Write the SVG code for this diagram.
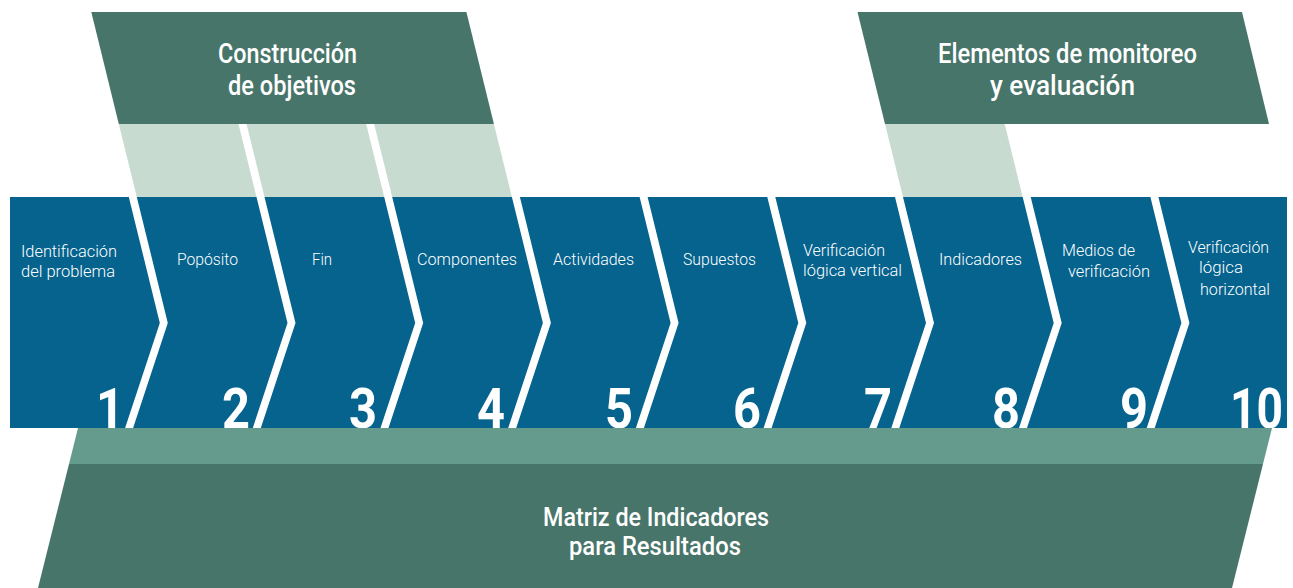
<svg xmlns="http://www.w3.org/2000/svg" width="1293" height="588" viewBox="0 0 1293 588">
  <style>
    .dark{fill:#48756A}
    .light{fill:#C8DBD1}
    .mid{fill:#659B8D}
    .blue{fill:#05638E}
    .head{font-family:Roboto,"Liberation Sans",sans-serif;font-weight:500;font-size:28px;fill:#fff}
    .foot{font-family:Roboto,"Liberation Sans",sans-serif;font-weight:500;font-size:26px;fill:#fff}
    .lbl{font-family:Roboto,"Liberation Sans",sans-serif;font-weight:300;font-size:16px;fill:#fff}
    .num{font-family:Roboto,"Liberation Sans",sans-serif;font-weight:700;font-size:56px;fill:#fff}
  </style>
  <rect width="1293" height="588" fill="#fff"/>

  <g id="header-construccion">
    <polygon class="dark" points="91.3,12 466.4,12 493.9,124 118.8,124"/>
    <polygon class="light" points="118.8,124 238.5,124 256.5,197 136.8,197"/>
    <polygon class="light" points="246.5,124 366.2,124 384.2,197 264.5,197"/>
    <polygon class="light" points="374.2,124 493.9,124 511.9,197 392.2,197"/>
    <text class="head" x="218" y="63" textLength="139" lengthAdjust="spacingAndGlyphs">Construcción</text>
    <text class="head" x="228" y="95" textLength="128" lengthAdjust="spacingAndGlyphs">de objetivos</text>
  </g>

  <g id="header-monitoreo">
    <polygon class="dark" points="857.5,12 1242,12 1269,124 885,124"/>
    <polygon class="light" points="885,124 1004.7,124 1022.7,197 903,197"/>
    <text class="head" x="938" y="63" textLength="259" lengthAdjust="spacingAndGlyphs">Elementos de monitoreo</text>
    <text class="head" x="990" y="95" textLength="145" lengthAdjust="spacingAndGlyphs">y evaluación</text>
  </g>

  <g id="step-1">
    <polygon class="blue" points="10,197 128.8,197 159.8,323 125.1,428 10,428"/>
    <text class="lbl" x="21" y="257" textLength="96" lengthAdjust="spacingAndGlyphs">Identificación</text>
    <text class="lbl" x="21" y="277" textLength="94" lengthAdjust="spacingAndGlyphs">del problema</text>
    <text class="num" x="96" y="428" textLength="28" lengthAdjust="spacingAndGlyphs">1</text>
  </g>
  <g id="step-2">
    <polygon class="blue" points="136.8,197 256.5,197 287.5,323 252.8,428 133.1,428 167.8,323"/>
    <text class="lbl" x="177" y="264.5" textLength="61" lengthAdjust="spacingAndGlyphs">Popósito</text>
    <text class="num" x="222" y="428" textLength="28" lengthAdjust="spacingAndGlyphs">2</text>
  </g>
  <g id="step-3">
    <polygon class="blue" points="264.5,197 384.2,197 415.2,323 380.5,428 260.8,428 295.5,323"/>
    <text class="lbl" x="312" y="264.5" textLength="20" lengthAdjust="spacingAndGlyphs">Fin</text>
    <text class="num" x="349" y="428" textLength="28" lengthAdjust="spacingAndGlyphs">3</text>
  </g>
  <g id="step-4">
    <polygon class="blue" points="392.2,197 511.9,197 542.9,323 508.2,428 388.5,428 423.2,323"/>
    <text class="lbl" x="417" y="264.5" textLength="100" lengthAdjust="spacingAndGlyphs">Componentes</text>
    <text class="num" x="477" y="428" textLength="28" lengthAdjust="spacingAndGlyphs">4</text>
  </g>
  <g id="step-5">
    <polygon class="blue" points="519.9,197 639.6,197 670.6,323 635.9,428 516.2,428 550.9,323"/>
    <text class="lbl" x="553" y="264.5" textLength="81" lengthAdjust="spacingAndGlyphs">Actividades</text>
    <text class="num" x="605" y="428" textLength="28" lengthAdjust="spacingAndGlyphs">5</text>
  </g>
  <g id="step-6">
    <polygon class="blue" points="647.6,197 767.3,197 798.3,323 763.6,428 643.9,428 678.6,323"/>
    <text class="lbl" x="683" y="264.5" textLength="73" lengthAdjust="spacingAndGlyphs">Supuestos</text>
    <text class="num" x="733" y="428" textLength="28" lengthAdjust="spacingAndGlyphs">6</text>
  </g>
  <g id="step-7">
    <polygon class="blue" points="775.3,197 895,197 926,323 891.3,428 771.6,428 806.3,323"/>
    <text class="lbl" x="803" y="256" textLength="82" lengthAdjust="spacingAndGlyphs">Verificación</text>
    <text class="lbl" x="803" y="276" textLength="99" lengthAdjust="spacingAndGlyphs">lógica vertical</text>
    <text class="num" x="864" y="428" textLength="28" lengthAdjust="spacingAndGlyphs">7</text>
  </g>
  <g id="step-8">
    <polygon class="blue" points="903,197 1022.7,197 1053.7,323 1019,428 899.3,428 934,323"/>
    <text class="lbl" x="939" y="264.5" textLength="83" lengthAdjust="spacingAndGlyphs">Indicadores</text>
    <text class="num" x="992" y="428" textLength="28" lengthAdjust="spacingAndGlyphs">8</text>
  </g>
  <g id="step-9">
    <polygon class="blue" points="1030.7,197 1150.4,197 1181.4,323 1146.7,428 1027,428 1061.7,323"/>
    <text class="lbl" x="1062" y="256" textLength="73" lengthAdjust="spacingAndGlyphs">Medios de</text>
    <text class="lbl" x="1068" y="276.5" textLength="82" lengthAdjust="spacingAndGlyphs">verificación</text>
    <text class="num" x="1120" y="428" textLength="28" lengthAdjust="spacingAndGlyphs">9</text>
  </g>
  <g id="step-10">
    <polygon class="blue" points="1158.4,197 1287,197 1287,428 1154.7,428 1189.4,323"/>
    <text class="lbl" x="1188" y="253" textLength="81" lengthAdjust="spacingAndGlyphs">Verificación</text>
    <text class="lbl" x="1199" y="273" textLength="44" lengthAdjust="spacingAndGlyphs">lógica</text>
    <text class="lbl" x="1200" y="295" textLength="70" lengthAdjust="spacingAndGlyphs">horizontal</text>
    <text class="num" x="1230" y="428" textLength="53" lengthAdjust="spacingAndGlyphs">10</text>
  </g>

  <g id="connectors"></g>

  <g id="footer-mir">
    <polygon class="mid" points="78,428 1272,428 1263,464 69,464"/>
    <polygon class="dark" points="69,464 1263,464 1232,588 38,588"/>
    <text class="foot" x="543" y="526" textLength="226" lengthAdjust="spacingAndGlyphs">Matriz de Indicadores</text>
    <text class="foot" x="569" y="555" textLength="172" lengthAdjust="spacingAndGlyphs">para Resultados</text>
  </g>
</svg>
